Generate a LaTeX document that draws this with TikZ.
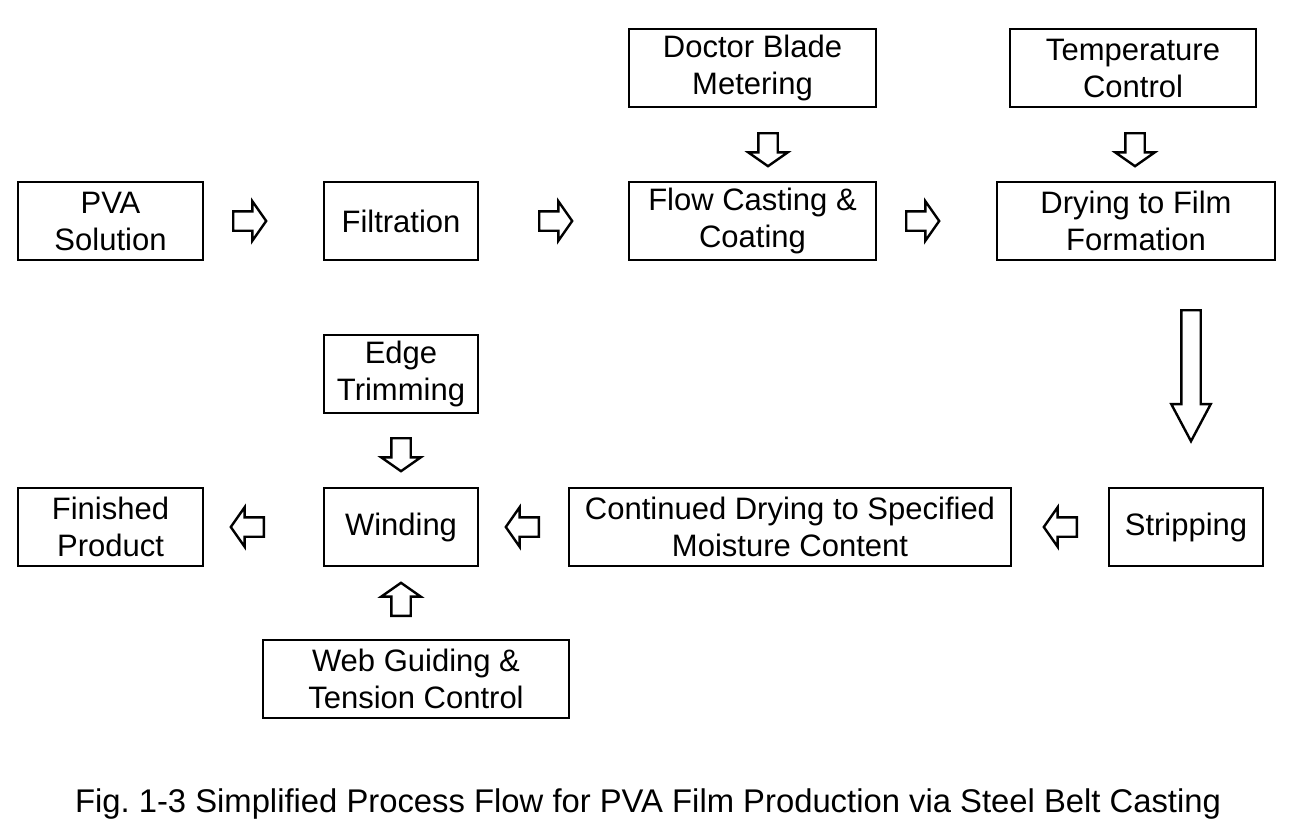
\documentclass[tikz,border=0pt]{standalone}
\usepackage{fontspec}
\setmainfont{Liberation Sans}
\usetikzlibrary{shapes.arrows,positioning,calc}

\begin{document}
\frenchspacing
\begin{tikzpicture}[
    x=1pt, y=-1pt,
    step box/.style={rectangle, draw, line width=2pt, minimum height=78pt,
                 align=center, inner sep=2pt,
                 font=\fontsize{31}{37}\selectfont},
    % hollow block arrows between the steps
    blk/.style={single arrow, draw, line width=2.4pt, inner sep=8.5pt,
                minimum width=38pt, single arrow head extend=10pt,
                single arrow tip angle=110, minimum height=33pt, anchor=tail},
    blkbig/.style={blk, single arrow tip angle=56, minimum height=131pt},
]
\useasboundingbox (0,0) rectangle (1296,830);

% --- top row
\node[step box, minimum width=185pt] (pva) at (110.5,221) {PVA\\Solution};
\node[step box, minimum width=154pt] (filt) at (401,221) {Filtration};
\node[step box, minimum width=247pt] (cast) at (752.5,221) {Flow Casting \&\\Coating};
\node[step box, minimum width=278pt] (dry) at (1136,221) {Drying to Film\\Formation};
\node[step box, minimum width=247pt] (blade) at (752.5,68) {Doctor Blade\\Metering};
\node[step box, minimum width=246pt] (temp) at (1133,68) {Temperature\\Control};

% --- bottom row
\node[step box, minimum width=154pt] (strip) at (1186,527) {Stripping};
\node[step box, minimum width=442pt] (moist) at (790,527)
    {Continued Drying to Specified\\Moisture Content};
\node[step box, minimum width=154pt] (wind) at (401,527) {Winding};
\node[step box, minimum width=185pt] (fin) at (110.5,527) {Finished\\Product};
\node[step box, minimum width=154pt] (trim) at (401,374) {Edge\\Trimming};
\node[step box, minimum width=306pt] (guide) at (416,679)
    {Web Guiding \&\\Tension Control};

% --- block arrows (placed by their tails)
\node[blk] (a1) at (232,221) {};
\node[blk] (a2) at (538,221) {};
\node[blk] (a3) at (905,221) {};
\node[blk, shape border rotate=270] (a4) at (768,132) {};
\node[blk, shape border rotate=270] (a5) at (1135,132) {};
\node[blkbig, shape border rotate=270] (a6) at (1191,309) {};
\node[blk, shape border rotate=180] (a7) at (1078,527) {};
\node[blk, shape border rotate=180] (a8) at (540,527) {};
\node[blk, shape border rotate=180] (a9) at (265,527) {};
\node[blk, shape border rotate=270] (a10) at (401,437) {};
\node[blk, shape border rotate=90] (a11) at (401,617) {};

% --- caption
\node[font=\fontsize{32.8}{38}\selectfont] (cap) at (648,804)
    {Fig. 1-3 Simplified Process Flow for PVA Film Production via Steel Belt Casting};
\end{tikzpicture}
\end{document}
